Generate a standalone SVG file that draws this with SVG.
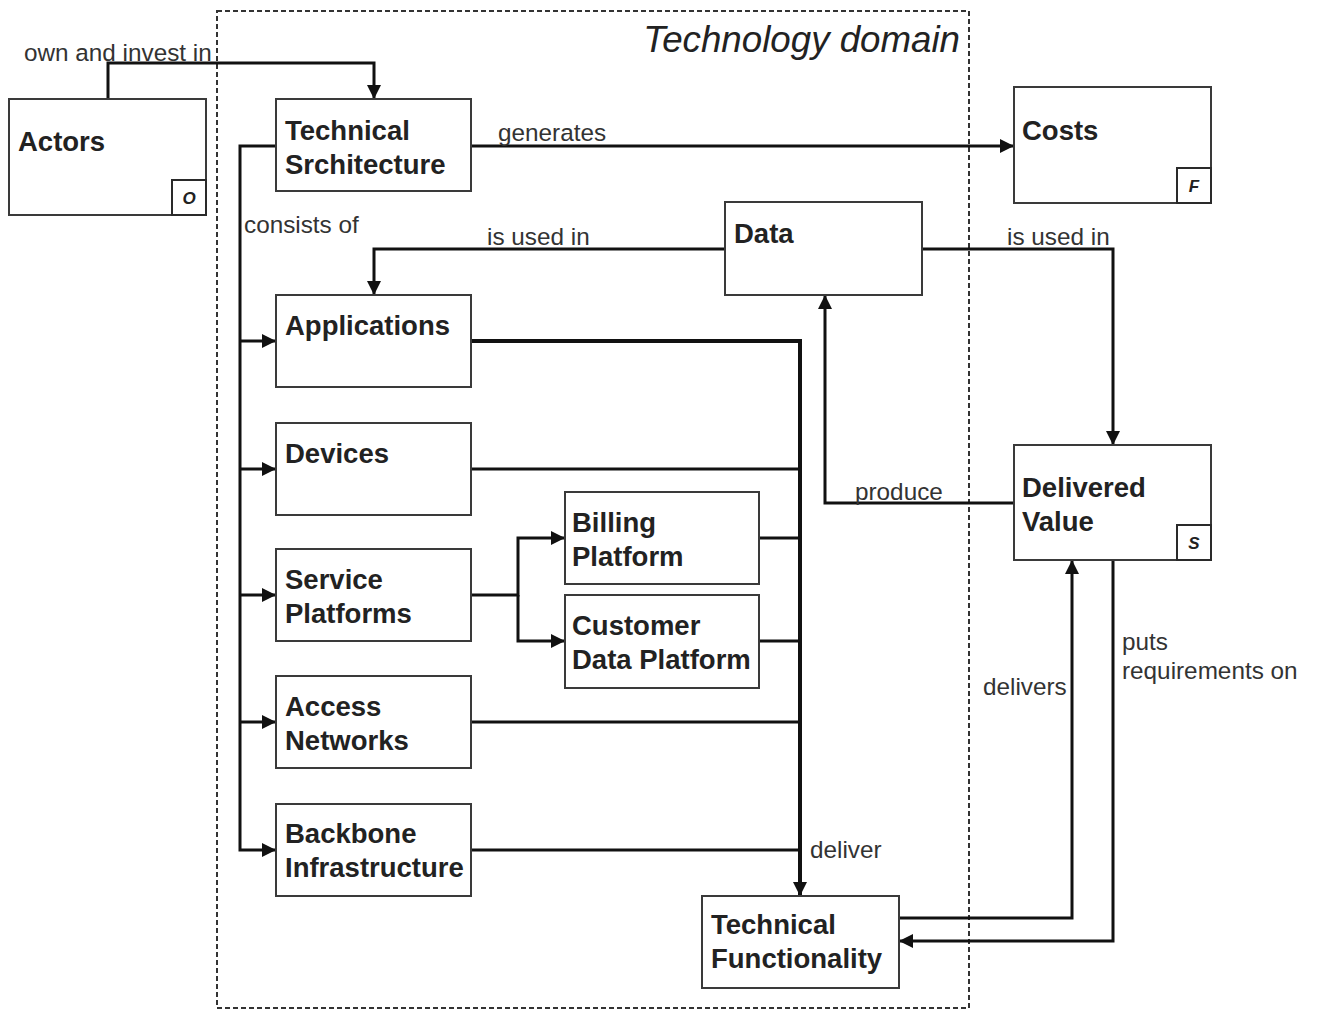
<svg xmlns="http://www.w3.org/2000/svg" width="1318" height="1010" viewBox="0 0 1318 1010">
  <style>
    .box { fill: #ffffff; stroke: #3a3a3a; stroke-width: 2; }
    .badge { fill: #ffffff; stroke: #2a2a2a; stroke-width: 2; }
    .name { font-family: "Liberation Sans", Arial, sans-serif; font-size: 27.5px; font-weight: bold; fill: #222; }
    .tag { font-family: "Liberation Sans", Arial, sans-serif; font-size: 17px; font-style: italic; font-weight: bold; fill: #222; text-anchor: middle; }
    .lbl { font-family: "Liberation Sans", Arial, sans-serif; font-size: 24.3px; fill: #333; }
    .wire { fill: none; stroke: #111; stroke-width: 3; }
    .thick { fill: none; stroke: #111; stroke-width: 4; }
    .domain { fill: none; stroke: #333; stroke-width: 2; stroke-dasharray: 5 3; }
    .title { font-family: "Liberation Sans", Arial, sans-serif; font-size: 36.7px; font-style: italic; fill: #222; text-anchor: end; }
  </style>
  <defs>
    <marker id="arrow" markerUnits="userSpaceOnUse" markerWidth="15" markerHeight="15" refX="14" refY="7" orient="auto">
      <path d="M0,0 L14,7 L0,14 z" fill="#111"/>
    </marker>
  </defs>

  <rect width="1318" height="1010" fill="#ffffff"/>

  <!-- technology domain boundary -->
  <g id="technology-domain">
    <rect class="domain" x="217" y="11" width="752" height="997"/>
    <text class="title" x="960" y="52">Technology domain</text>
  </g>

  <!-- connectors -->
  <g id="connectors">
    <!-- own and invest in -->
    <path class="wire" d="M108,99 V63 H374 V99" marker-end="url(#arrow)"/>
    <text class="lbl" x="24" y="61">own and invest in</text>

    <!-- generates -->
    <path class="wire" d="M471,146 H1014" marker-end="url(#arrow)"/>
    <text class="lbl" x="498" y="141">generates</text>

    <!-- consists of -->
    <path class="wire" d="M276,146 H240 V850 H276" marker-end="url(#arrow)"/>
    <path class="wire" d="M240,341 H276" marker-end="url(#arrow)"/>
    <path class="wire" d="M240,469 H276" marker-end="url(#arrow)"/>
    <path class="wire" d="M240,595 H276" marker-end="url(#arrow)"/>
    <path class="wire" d="M240,722 H276" marker-end="url(#arrow)"/>
    <text class="lbl" x="244" y="233">consists of</text>

    <!-- data is used in applications -->
    <path class="wire" d="M725,249 H374 V295" marker-end="url(#arrow)"/>
    <text class="lbl" x="487" y="245">is used in</text>

    <!-- data is used in delivered value -->
    <path class="wire" d="M922,249 H1113 V445" marker-end="url(#arrow)"/>
    <text class="lbl" x="1007" y="245">is used in</text>

    <!-- produce -->
    <path class="wire" d="M1014,503 H825 V295" marker-end="url(#arrow)"/>
    <text class="lbl" x="855" y="500">produce</text>

    <!-- service platforms split -->
    <path class="wire" d="M471,595 H518 V538 H565" marker-end="url(#arrow)"/>
    <path class="wire" d="M518,595 V641 H565" marker-end="url(#arrow)"/>

    <!-- deliver bus -->
    <path class="thick" d="M471,341 H800 V896" marker-end="url(#arrow)"/>
    <path class="wire" d="M471,469 H800"/>
    <path class="wire" d="M759,538 H800"/>
    <path class="wire" d="M759,641 H800"/>
    <path class="wire" d="M471,722 H800"/>
    <path class="wire" d="M471,850 H800"/>
    <text class="lbl" x="810" y="858">deliver</text>

    <!-- delivers -->
    <path class="wire" d="M899,918 H1072 V560" marker-end="url(#arrow)"/>
    <text class="lbl" x="983" y="695">delivers</text>

    <!-- puts requirements on -->
    <path class="wire" d="M1113,560 V941 H899" marker-end="url(#arrow)"/>
    <text class="lbl" x="1122" y="650">puts</text>
    <text class="lbl" x="1122" y="679">requirements on</text>
  </g>

  <!-- nodes -->
  <g id="actors">
    <rect class="box" x="9" y="99" width="197" height="116"/>
    <text class="name" x="18" y="151">Actors</text>
    <rect class="badge" x="172" y="180" width="34" height="35"/>
    <text class="tag" x="189" y="204">O</text>
  </g>

  <g id="technical-architecture">
    <rect class="box" x="276" y="99" width="195" height="92"/>
    <text class="name" x="285" y="140">Technical</text>
    <text class="name" x="285" y="174">Srchitecture</text>
  </g>

  <g id="costs">
    <rect class="box" x="1014" y="87" width="197" height="116"/>
    <text class="name" x="1022" y="140">Costs</text>
    <rect class="badge" x="1177" y="168" width="34" height="35"/>
    <text class="tag" x="1194" y="192">F</text>
  </g>

  <g id="data">
    <rect class="box" x="725" y="202" width="197" height="93"/>
    <text class="name" x="734" y="243">Data</text>
  </g>

  <g id="applications">
    <rect class="box" x="276" y="295" width="195" height="92"/>
    <text class="name" x="285" y="335">Applications</text>
  </g>

  <g id="devices">
    <rect class="box" x="276" y="423" width="195" height="92"/>
    <text class="name" x="285" y="463">Devices</text>
  </g>

  <g id="billing-platform">
    <rect class="box" x="565" y="492" width="194" height="92"/>
    <text class="name" x="572" y="532">Billing</text>
    <text class="name" x="572" y="566">Platform</text>
  </g>

  <g id="service-platforms">
    <rect class="box" x="276" y="549" width="195" height="92"/>
    <text class="name" x="285" y="589">Service</text>
    <text class="name" x="285" y="623">Platforms</text>
  </g>

  <g id="customer-data-platform">
    <rect class="box" x="565" y="595" width="194" height="93"/>
    <text class="name" x="572" y="635">Customer</text>
    <text class="name" x="572" y="669">Data Platform</text>
  </g>

  <g id="access-networks">
    <rect class="box" x="276" y="676" width="195" height="92"/>
    <text class="name" x="285" y="716">Access</text>
    <text class="name" x="285" y="750">Networks</text>
  </g>

  <g id="backbone-infrastructure">
    <rect class="box" x="276" y="804" width="195" height="92"/>
    <text class="name" x="285" y="843">Backbone</text>
    <text class="name" x="285" y="877">Infrastructure</text>
  </g>

  <g id="technical-functionality">
    <rect class="box" x="702" y="896" width="197" height="92"/>
    <text class="name" x="711" y="934">Technical</text>
    <text class="name" x="711" y="968">Functionality</text>
  </g>

  <g id="delivered-value">
    <rect class="box" x="1014" y="445" width="197" height="115"/>
    <text class="name" x="1022" y="497">Delivered</text>
    <text class="name" x="1022" y="531">Value</text>
    <rect class="badge" x="1177" y="525" width="34" height="35"/>
    <text class="tag" x="1194" y="549">S</text>
  </g>
</svg>
